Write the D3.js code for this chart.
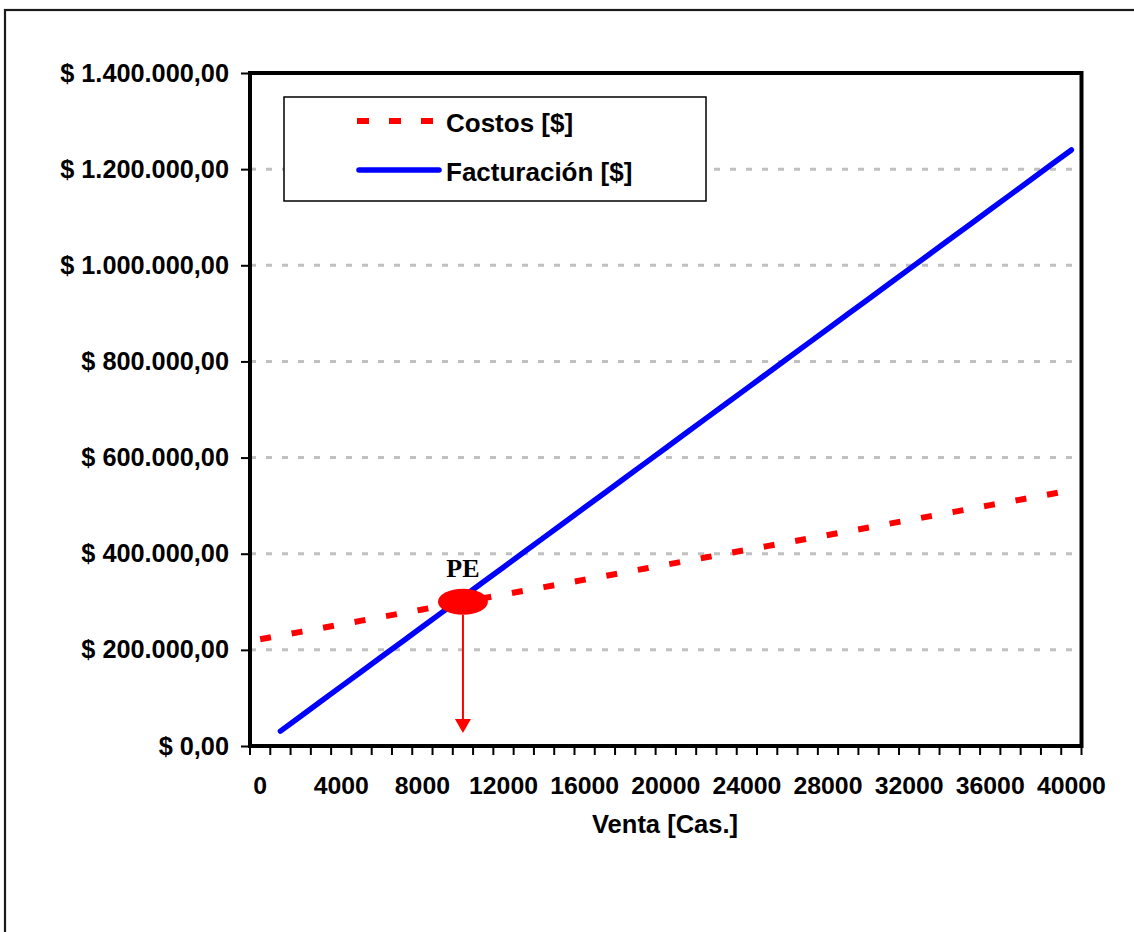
<!DOCTYPE html>
<html>
<head>
<meta charset="utf-8">
<script src="https://cdn.jsdelivr.net/npm/d3@7"></script>
<style>
  html, body { margin: 0; padding: 0; background: #fff; }
  svg { display: block; }
  text { font-weight: bold; fill: #000; }
</style>
</head>
<body>
<svg id="chart" width="1134" height="932"></svg>
<script>
// Units sold (cases), one category per 1000
const categories = [0,1000,2000,3000,4000,5000,6000,7000,8000,9000,10000,
  11000,12000,13000,14000,15000,16000,17000,18000,19000,20000,
  21000,22000,23000,24000,25000,26000,27000,28000,29000,30000,
  31000,32000,33000,34000,35000,36000,37000,38000,39000,40000];

// Total costs [$]
const costos = [222000,229750,237500,245250,253000,260750,268500,276250,284000,291750,299500,
  307250,315000,322750,330500,338250,346000,353750,361500,369250,377000,
  384750,392500,400250,408000,415750,423500,431250,439000,446750,454500,
  462250,470000,477750,485500,493250,501000,508750,516500,524250,532000];

// Revenue [$] (no value at 0 cases)
const facturacion = [null,31000,62000,93000,124000,155000,186000,217000,248000,279000,310000,
  341000,372000,403000,434000,465000,496000,527000,558000,589000,620000,
  651000,682000,713000,744000,775000,806000,837000,868000,899000,930000,
  961000,992000,1023000,1054000,1085000,1116000,1147000,1178000,1209000,1240000];

const xTickLabels = [0,4000,8000,12000,16000,20000,24000,28000,32000,36000,40000];
const yTickValues = [0,200000,400000,600000,800000,1000000,1200000,1400000];
const yTickLabels = ["$ 0,00","$ 200.000,00","$ 400.000,00","$ 600.000,00","$ 800.000,00",
  "$ 1.000.000,00","$ 1.200.000,00","$ 1.400.000,00"];

// Break-even point (PE) and the arrow dropped from it
const peUnits = 10000;
const peValue = 300000;
const peArrowEnd = 27000;

const seriesNames = ["Costos [$]", "Facturación [$]"];

const SANS = "Arial, 'Liberation Sans', sans-serif";
const SERIF = "'Liberation Serif', 'Times New Roman', serif";

const svg = d3.select("#chart");

// Chart frame
svg.append("rect")
  .attr("x", 5).attr("y", 10).attr("width", 1140).attr("height", 940)
  .attr("fill", "none").attr("stroke", "#1a1a1a").attr("stroke-width", 2.2);

const plot = { left: 250, right: 1081.5, top: 73, bottom: 746 };

const x = d3.scaleBand()
  .domain(categories)
  .range([plot.left, plot.right])
  .padding(0);
const cx = v => x(v) + x.bandwidth() / 2;

const y = d3.scaleLinear()
  .domain([0, 1400000])
  .range([plot.bottom, plot.top]);

// Horizontal gridlines
svg.append("g")
  .selectAll("line")
  .data(yTickValues.filter(v => v > 0 && v < 1400000))
  .join("line")
  .attr("x1", plot.left).attr("x2", plot.right)
  .attr("y1", d => y(d)).attr("y2", d => y(d))
  .attr("stroke", "#c0c0c0").attr("stroke-width", 3)
  .attr("stroke-dasharray", "6,10");

// Y axis ticks and labels
const yAxis = d3.axisLeft(y)
  .tickValues(yTickValues)
  .tickSize(9)
  .tickPadding(12)
  .tickFormat((d, i) => yTickLabels[i]);
const gy = svg.append("g").attr("transform", `translate(${plot.left},0)`).call(yAxis);
gy.select(".domain").remove();
gy.selectAll(".tick line").attr("stroke", "#000").attr("stroke-width", 2);
gy.selectAll(".tick text")
  .style("font-family", SANS).style("font-size", "25.3px")
  .style("font-weight", "bold").attr("fill", "#000");

// X axis: minor ticks at category boundaries
const bounds = categories.map(c => x(c)).concat([plot.right]);
svg.append("g")
  .selectAll("line")
  .data(bounds)
  .join("line")
  .attr("x1", d => d).attr("x2", d => d)
  .attr("y1", plot.bottom).attr("y2", plot.bottom + 9)
  .attr("stroke", "#000").attr("stroke-width", 2);

// X tick labels every 4000 cases
svg.append("g")
  .selectAll("text")
  .data(xTickLabels)
  .join("text")
  .attr("x", d => cx(d))
  .attr("y", 794)
  .attr("text-anchor", "middle")
  .style("font-family", SANS).style("font-size", "24.8px")
  .text(d => d);

// Axis title
svg.append("text")
  .attr("x", 665)
  .attr("y", 833)
  .attr("text-anchor", "middle")
  .style("font-family", SANS).style("font-size", "25.5px")
  .text("Venta [Cas.]");

// Series lines
const lineGen = d3.line()
  .defined(d => d.v != null)
  .x(d => cx(d.c))
  .y(d => y(d.v));

const costosData = categories.map((c, i) => ({ c, v: costos[i] }));
const factData = categories.map((c, i) => ({ c, v: facturacion[i] }));

svg.append("path")
  .datum(costosData)
  .attr("d", lineGen)
  .attr("fill", "none")
  .attr("stroke", "#ff0000").attr("stroke-width", 6)
  .attr("stroke-dasharray", "11,21");

svg.append("path")
  .datum(factData)
  .attr("d", lineGen)
  .attr("fill", "none")
  .attr("stroke", "#0000ff").attr("stroke-width", 5.5)
  .attr("stroke-linecap", "round");

// Plot border
svg.append("rect")
  .attr("x", plot.left).attr("y", plot.top)
  .attr("width", plot.right - plot.left).attr("height", plot.bottom - plot.top)
  .attr("fill", "none").attr("stroke", "#000").attr("stroke-width", 4);

// Break-even marker, label and arrow
const peX = cx(peUnits);
const peY = y(peValue);
const ry = 13;
svg.append("line")
  .attr("x1", peX).attr("x2", peX)
  .attr("y1", peY + ry).attr("y2", y(peArrowEnd) - 13)
  .attr("stroke", "#ff0000").attr("stroke-width", 2);
svg.append("path")
  .attr("d", `M${peX - 8},${y(peArrowEnd) - 14} L${peX + 8},${y(peArrowEnd) - 14} L${peX},${y(peArrowEnd)} Z`)
  .attr("fill", "#ff0000");
svg.append("ellipse")
  .attr("cx", peX).attr("cy", peY)
  .attr("rx", 25).attr("ry", ry)
  .attr("fill", "#ff0000");
svg.append("text")
  .attr("x", peX)
  .attr("y", peY - 25)
  .attr("text-anchor", "middle")
  .style("font-family", SERIF).style("font-size", "26px")
  .text("PE");

// Legend
const lg = svg.append("g");
lg.append("rect")
  .attr("x", 284).attr("y", 97).attr("width", 422).attr("height", 104)
  .attr("fill", "#fff").attr("stroke", "#000").attr("stroke-width", 1.5);
lg.append("line")
  .attr("x1", 357).attr("x2", 441).attr("y1", 121).attr("y2", 121)
  .attr("stroke", "#ff0000").attr("stroke-width", 6)
  .attr("stroke-dasharray", "12,20");
lg.append("line")
  .attr("x1", 359).attr("x2", 439).attr("y1", 170).attr("y2", 170)
  .attr("stroke", "#0000ff").attr("stroke-width", 5.5)
  .attr("stroke-linecap", "round");
lg.selectAll("text.lbl")
  .data(seriesNames)
  .join("text")
  .attr("class", "lbl")
  .attr("x", 446)
  .attr("y", (d, i) => 132 + i * 49)
  .style("font-family", SANS).style("font-size", "26px")
  .text(d => d);
</script>
</body>
</html>
